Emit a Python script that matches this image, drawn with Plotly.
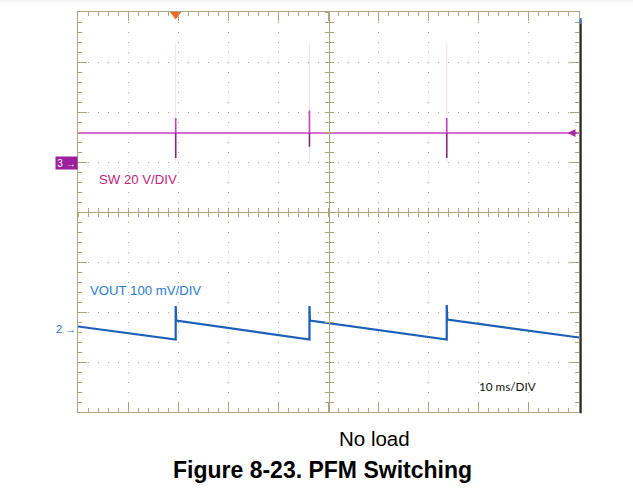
import plotly.graph_objects as go

# ---------------- data ----------------
# time base: 10 ms/div, 10 divisions
time_range_ms = [0, 100]

# SW channel (20 V/div), volts relative to its ground marker "3"
sw_time_ms = [0, 100]
sw_level_v = [12, 12]
spike_time_ms = [19.5, 46.2, 73.6]
spike_high_v = [18, 21, 18]
spike_low_v = [2, 6.5, 2]
spike_faint_high_v = [47.5, 47.5, 47.5]
spike_faint_low_v = [0, 0, 0]

# VOUT channel (100 mV/div), mV relative to its ground marker "2"
vout_time_ms = [0, 19.5, 19.5, 19.6, 46.2, 46.2, 46.3, 73.6, 73.6, 73.7, 100]
vout_mv = [4, -22, 45, 16, -22, 45, 16, -22, 47, 18, -18]

trigger_time_ms = 19.5

# channel settings
sw_volts_per_div = 20
sw_ref_div = 0.98        # position of ground marker 3 (divisions from centre)
vout_mv_per_div = 100
vout_ref_div = -2.33     # position of ground marker 2

GRID = "#aaa57d"
SW_COLOR = "#c83cc8"
SW_DARK = "#7e2a74"
SW_FAINT = "#f2dcf2"
VOUT_COLOR = "#1b5fb8"

# ---------------- build segments ----------------
def segs(ts, a, b):
    xs, ys = [], []
    for t, y0, y1 in zip(ts, a, b):
        xs += [t, t, None]
        ys += [y0, y1, None]
    return xs, ys

fig = go.Figure()

fx, fy = segs(spike_time_ms, spike_faint_high_v, spike_faint_low_v)
fig.add_trace(go.Scatter(x=fx, y=fy, yaxis="y2", mode="lines",
                         line=dict(color=SW_FAINT, width=1)))
fig.add_trace(go.Scatter(x=sw_time_ms, y=sw_level_v, yaxis="y2", mode="lines",
                         line=dict(color=SW_COLOR, width=1.6)))
ux, uy = segs(spike_time_ms, spike_high_v, [sw_level_v[0]] * len(spike_time_ms))
fig.add_trace(go.Scatter(x=ux, y=uy, yaxis="y2", mode="lines",
                         line=dict(color=SW_COLOR, width=1.6)))
lx, ly = segs(spike_time_ms, [sw_level_v[0]] * len(spike_time_ms), spike_low_v)
fig.add_trace(go.Scatter(x=lx, y=ly, yaxis="y2", mode="lines",
                         line=dict(color=SW_DARK, width=1.6)))

fig.add_trace(go.Scatter(x=vout_time_ms, y=vout_mv, yaxis="y3", mode="lines",
                         line=dict(color=VOUT_COLOR, width=2.2)))

# trigger marker at top
fig.add_trace(go.Scatter(x=[trigger_time_ms], y=[3.96], yaxis="y", mode="markers",
                         marker=dict(symbol="triangle-down", size=11, color="#f26a21"),
                         cliponaxis=False))

# empty traces to host the centre cross axes
for xa, ya in [("x2", "y"), ("x3", "y"), ("x", "y4"), ("x", "y5")]:
    fig.add_trace(go.Scatter(x=[None], y=[None], xaxis=xa, yaxis=ya))

sw_range = [(-4 - sw_ref_div) * sw_volts_per_div, (4 - sw_ref_div) * sw_volts_per_div]
vout_range = [(-4 - vout_ref_div) * vout_mv_per_div, (4 - vout_ref_div) * vout_mv_per_div]

grid_axis = dict(showgrid=True, gridcolor=GRID, gridwidth=1, griddash="1px,9px",
                 showline=True, linecolor=GRID, linewidth=1, mirror="ticks",
                 ticks="inside", ticklen=9, tickcolor=GRID, tickwidth=1,
                 showticklabels=False, zeroline=False,
                 minor=dict(ticks="inside", ticklen=4, tickcolor=GRID, tickwidth=1,
                            showgrid=False))

cross_common = dict(showgrid=False, zeroline=False, showline=True, linecolor=GRID,
                    linewidth=1, ticklen=4, tickcolor=GRID, tickwidth=1,
                    showticklabels=False, anchor="free", position=0.5)

fig.update_layout(
    width=633, height=495,
    margin=dict(l=78, r=54, t=12, b=83),
    paper_bgcolor="white", plot_bgcolor="white",
    showlegend=False, hovermode=False,
    xaxis=dict(range=time_range_ms, dtick=10, tick0=0, **grid_axis),
    yaxis=dict(range=[-4, 4], dtick=1, tick0=0, **grid_axis),
    yaxis2=dict(range=sw_range, overlaying="y", visible=False),
    yaxis3=dict(range=vout_range, overlaying="y", visible=False),
    xaxis2=dict(range=time_range_ms, overlaying="x", dtick=2, tick0=0,
                ticks="outside", side="bottom", **cross_common),
    xaxis3=dict(range=time_range_ms, overlaying="x", dtick=2, tick0=0,
                ticks="inside", side="bottom", **cross_common),
    yaxis4=dict(range=[-4, 4], overlaying="y", dtick=0.2, tick0=0,
                ticks="outside", side="left", **cross_common),
    yaxis5=dict(range=[-4, 4], overlaying="y", dtick=0.2, tick0=0,
                ticks="inside", side="left", **cross_common),
)
fig.update_layout(xaxis_minor_dtick=2, yaxis_minor_dtick=0.2)

ann = []
# channel ground markers
ann.append(dict(xref="paper", x=0, xanchor="right", yref="y2", y=0, yanchor="middle",
                text="3 →", showarrow=False, bgcolor="#9c1f9c",
                font=dict(family="Liberation Sans", size=10, color="white"),
                width=19, height=10, borderpad=1))
ann.append(dict(xref="paper", x=0, xanchor="right", yref="y3", y=0, yanchor="middle",
                text="2 →", showarrow=False,
                font=dict(family="Liberation Sans", size=11, color="#1f6fc8")))
# SW level indicator at right edge
ann.append(dict(xref="x", x=97.7, yref="y2", y=sw_level_v[-1], ax=11, ay=0,
                text="", showarrow=True, arrowhead=2, arrowsize=1, arrowwidth=1.6,
                arrowcolor="#a82aa8"))
# channel labels
ann.append(dict(xref="paper", x=0.038, xanchor="left", yref="paper", y=0.581,
                yanchor="middle", text="SW 20 V/DIV", showarrow=False,
                font=dict(family="Liberation Sans", size=13.2, color="#c0267a")))
ann.append(dict(xref="paper", x=0.020, xanchor="left", yref="paper", y=0.305,
                yanchor="middle", text="VOUT 100 mV/DIV", showarrow=False,
                font=dict(family="Liberation Sans", size=13.2, color="#2b7bcf")))
ann.append(dict(xref="paper", x=0.796, xanchor="left", yref="paper", y=0.066,
                yanchor="middle", text="10 ms/DIV", showarrow=False,
                font=dict(family="Lato", size=11.7, color="#111111")))
# captions below
ann.append(dict(xref="paper", x=0.592, xanchor="center", yref="paper", y=-0.065,
                yanchor="middle", text="No load", showarrow=False,
                font=dict(family="Liberation Sans", size=20.5, color="black")))
ann.append(dict(xref="paper", x=0.488, xanchor="center", yref="paper", y=-0.145,
                yanchor="middle", text="<b>Figure 8-23. PFM Switching</b>",
                showarrow=False,
                font=dict(family="Liberation Sans", size=23, color="black")))
fig.update_layout(annotations=ann)

# screenshot edge decorations
fig.add_shape(type="line", xref="paper", yref="paper", x0=-0.16, x1=1.11,
              y0=1.0275, y1=1.0275, line=dict(color="#e6e6e6", width=1))
fig.add_shape(type="line", xref="paper", yref="paper", x0=1.0035, x1=1.0035,
              y0=-0.003, y1=0.98, line=dict(color="#2b2b2b", width=2))
fig.add_shape(type="line", xref="paper", yref="paper", x0=1.0035, x1=1.0035,
              y0=0.97, y1=0.985, line=dict(color="#4a7fc0", width=2))

fig.write_html("out.html", config={"displayModeBar": False},
               post_script="document.body.style.margin='0';")
